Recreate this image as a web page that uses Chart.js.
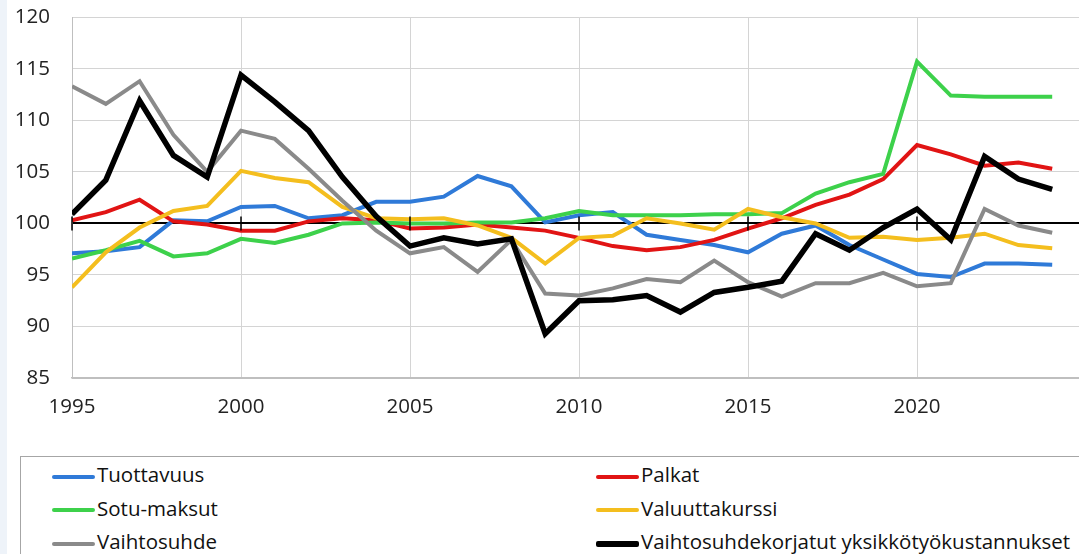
<!DOCTYPE html>
<html>
<head>
<meta charset="utf-8">
<script src="https://cdn.jsdelivr.net/npm/chart.js@4"></script>
<style>
  html, body { margin: 0; padding: 0; background: #fff; overflow: hidden; }
  body { width: 1079px; height: 554px; position: relative; font-family: "Open Sans", sans-serif; }
  #strip { position: absolute; left: 0; top: 0; width: 7px; height: 554px; background: #eef3f9; }
  #wrap { position: absolute; left: 0; top: -17px; width: 1086px; height: 452px; }
  #legend { position: absolute; left: 20px; top: 456px; width: 1100px; height: 120px;
            border: 1px solid #a6a6a6; box-sizing: border-box; }
  .item { position: absolute; height: 34px; line-height: 34px; font-size: 20.5px; color: #111; white-space: nowrap; }
  .item span.sw { display: inline-block; width: 43px; height: 4px; vertical-align: middle; margin-right: 2px; border-radius: 2px; }
</style>
</head>
<body>
<div id="strip"></div>
<div id="wrap"><canvas id="c"></canvas></div>
<div id="legend"></div>
<script>
// years on the x axis
const years = [1995,1996,1997,1998,1999,2000,2001,2002,2003,2004,2005,2006,2007,2008,2009,
               2010,2011,2012,2013,2014,2015,2016,2017,2018,2019,2020,2021,2022,2023,2024];
const xTicks = [1995, 2000, 2005, 2010, 2015, 2020];
const yTicks = [85, 90, 95, 100, 105, 110, 115, 120];

const tuottavuus = [97.1,97.3,97.7,100.3,100.2,101.6,101.7,100.5,100.8,102.1,102.1,102.6,104.6,103.6,100.1,
                    100.8,101.1,98.9,98.4,97.9,97.2,99.0,99.8,97.9,96.5,95.1,94.8,96.1,96.1,96.0];
const palkat = [100.3,101.1,102.3,100.2,99.9,99.3,99.3,100.2,100.5,100.3,99.5,99.6,99.9,99.6,99.3,
                98.6,97.8,97.4,97.7,98.4,99.5,100.5,101.8,102.8,104.3,107.6,106.7,105.6,105.9,105.3];
const sotuMaksut = [96.6,97.4,98.3,96.8,97.1,98.5,98.1,98.9,100.0,100.1,100.0,100.0,100.1,100.1,100.5,
                    101.2,100.8,100.8,100.8,100.9,100.9,101.0,102.9,104.0,104.8,115.7,112.4,112.3,112.3,112.3];
const valuuttakurssi = [93.8,97.2,99.6,101.2,101.7,105.1,104.4,104.0,101.6,100.5,100.4,100.5,99.8,98.6,96.1,
                        98.6,98.8,100.5,100.0,99.4,101.4,100.6,100.0,98.6,98.7,98.4,98.6,99.0,97.9,97.6];
const vaihtosuhde = [113.3,111.6,113.8,108.6,105.0,109.0,108.2,105.3,102.2,99.3,97.1,97.7,95.3,98.4,93.2,
                     93.0,93.7,94.6,94.3,96.4,94.3,92.9,94.2,94.2,95.2,93.9,94.2,101.4,99.8,99.1];
const korjatut = [100.9,104.2,111.9,106.6,104.5,114.4,111.8,109.0,104.5,100.7,97.8,98.6,98.0,98.5,89.3,
                  92.5,92.6,93.0,91.4,93.3,93.8,94.4,99.0,97.4,99.6,101.4,98.4,106.5,104.3,103.3];

const labels = ["Tuottavuus", "Palkat", "Sotu-maksut", "Valuuttakurssi", "Vaihtosuhde",
                "Vaihtosuhdekorjatut yksikkötyökustannukset"];
const colors = ["#2f7ad8", "#e11414", "#3dd14b", "#f4be1e", "#8a8a8a", "#000000"];
const series = [tuottavuus, palkat, sotuMaksut, valuuttakurssi, vaihtosuhde, korjatut];

const datasets = series.map((vals, i) => ({
    label: labels[i],
    data: vals.map((v, j) => ({x: years[j], y: v})),
    borderColor: colors[i],
    backgroundColor: colors[i],
    borderWidth: i == 5 ? 5.5 : 4,
    pointRadius: 0,
    tension: 0,
    order: 5 - i
}));

// small tick marks on the 100 line, like the excel axis crossing
const crossTicks = {
    id: 'crossTicks',
    afterDatasetsDraw(chart) {
        const ctx = chart.ctx, x = chart.scales.x, y = chart.scales.y;
        const y0 = y.getPixelForValue(100);
        ctx.save();
        ctx.strokeStyle = '#000';
        ctx.lineWidth = 1.5;
        xTicks.forEach(v => {
            const px = x.getPixelForValue(v);
            ctx.beginPath();
            ctx.moveTo(px, y0 - 7);
            ctx.lineTo(px, y0 + 7);
            ctx.stroke();
        });
        ctx.restore();
    }
};

const chart = new Chart(document.getElementById('c'), {
    type: 'line',
    data: { datasets: datasets },
    plugins: [crossTicks],
    options: {
        responsive: true,
        maintainAspectRatio: false,
        animation: false,
        layout: { padding: { top: 0, right: 0, left: 0, bottom: 0 } },
        plugins: { legend: { display: false }, tooltip: { enabled: false } },
        scales: {
            x: {
                type: 'linear',
                min: 1995, max: 2025,
                afterBuildTicks: s => { s.ticks = xTicks.map(v => ({value: v})); },
                afterFit: s => { s.height = 57; },
                grid: { color: '#d4d4d4', lineWidth: 1, drawTicks: false },
                border: { color: '#bfbfbf', width: 1.5 },
                ticks: { padding: 17, color: '#222', font: { family: 'Open Sans', size: 20.5 }, maxRotation: 0,
                         callback: v => String(v) }
            },
            y: {
                min: 85, max: 120,
                afterBuildTicks: s => { s.ticks = yTicks.map(v => ({value: v})); },
                afterFit: s => { s.width = 72; },
                grid: {
                    drawTicks: false,
                    color: c => c.tick && c.tick.value == 100 ? '#000' : (c.tick && c.tick.value == 85 ? '#bfbfbf' : '#d4d4d4'),
                    lineWidth: c => c.tick && c.tick.value == 100 ? 2 : 1
                },
                border: { color: '#bfbfbf', width: 1 },
                ticks: { padding: 22, color: '#222', font: { family: 'Open Sans', size: 20.5 } }
            }
        }
    }
});

// html legend in two columns, built from the datasets
const pos = [[0, 0], [1, 0], [0, 1], [1, 1], [0, 2], [1, 2]];
const legend = document.getElementById('legend');
chart.data.datasets.forEach((ds, i) => {
    const d = document.createElement('div');
    d.className = 'item';
    d.style.left = (pos[i][0] ? 575 : 31) + 'px';
    d.style.top = (pos[i][1] * 33.5) + 'px';
    const sw = document.createElement('span');
    sw.className = 'sw';
    sw.style.background = ds.borderColor;
    if (i == 5) sw.style.height = '6px';
    d.appendChild(sw);
    d.appendChild(document.createTextNode(ds.label));
    legend.appendChild(d);
});
</script>
</body>
</html>
